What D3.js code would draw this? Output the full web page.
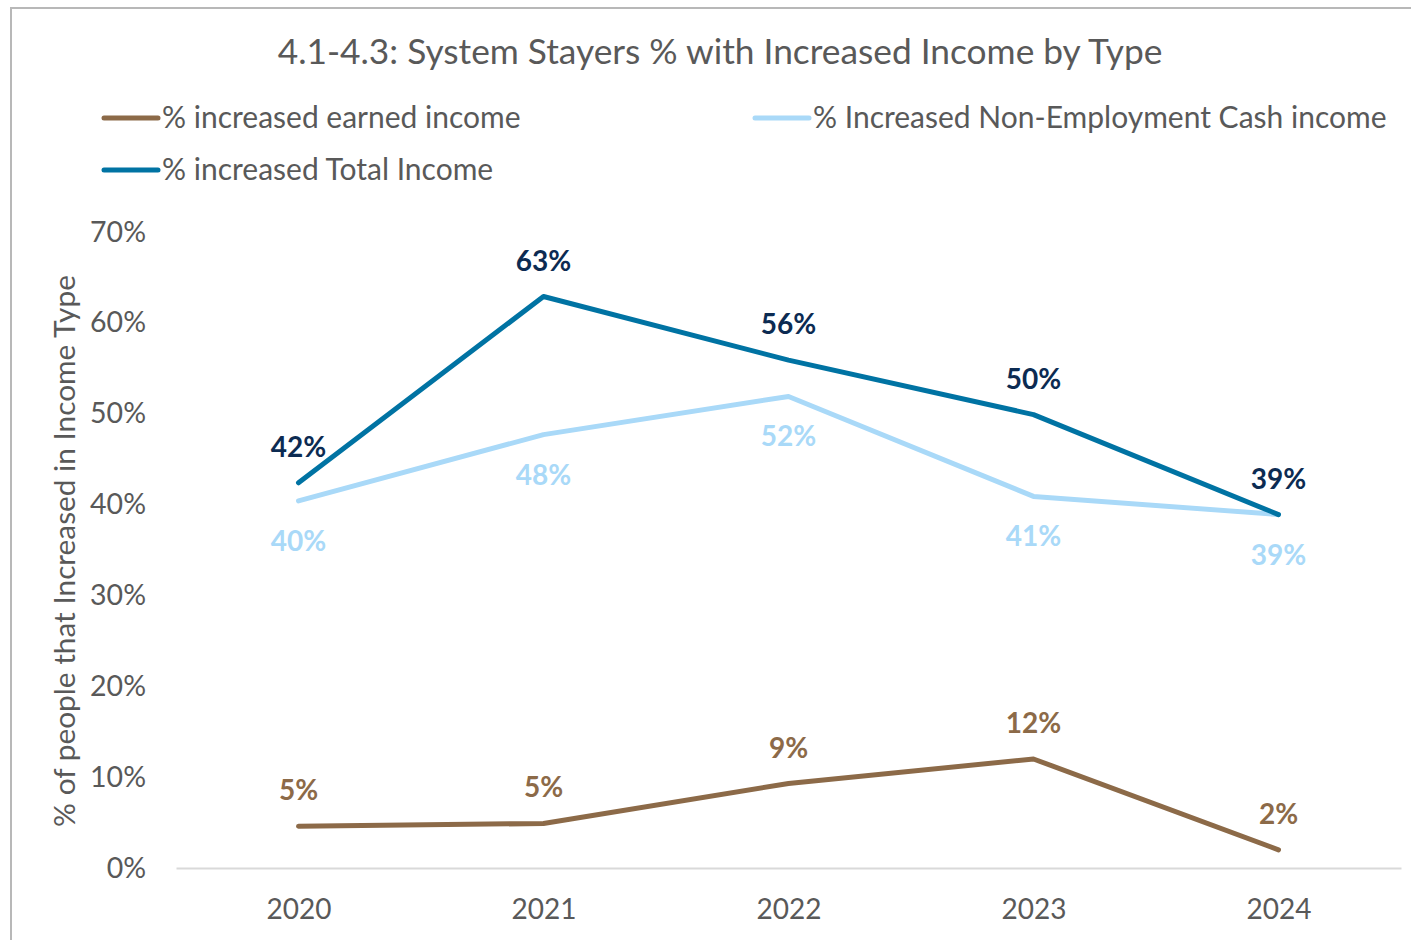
<!DOCTYPE html>
<meta charset="utf-8">
<style>
body { margin: 0; background: #fff; }
.plot_style text { fill: #595959; font-family: Lato, 'Open Sans', sans-serif; }
</style>
<body>
<div id="chart"></div>
<script src="https://d3js.org/d3.v7.min.js"></script>
<script>

// data
var years = ["2020", "2021", "2022", "2023", "2024"];
var earned = [4.6, 4.9, 9.3, 12.0, 2.0];
var nonEmployment = [40.4, 47.7, 51.9, 40.9, 38.9];
var total = [42.4, 62.9, 55.9, 49.9, 38.9];
var yTicks = [0, 10, 20, 30, 40, 50, 60, 70];

var W = 1411, H = 940;
var margin = {top: 232, right: 10, bottom: 72, left: 176},
    width = W - margin.left - margin.right,
    height = H - margin.top - margin.bottom;

var svg = d3.select("#chart").append("svg")
    .attr("width", W)
    .attr("height", H);

// chart border
svg.append("rect")
    .attr("x", 11).attr("y", 8)
    .attr("width", W + 20).attr("height", H + 20)
    .style("fill", "none")
    .style("stroke", "#b8b8b8")
    .style("stroke-width", 2);

var g = svg.append("g")
    .attr("class", "plot_style")
    .attr("transform", "translate(" + margin.left + "," + margin.top + ")");

var x = d3.scalePoint().domain(years).range([0, 1225]).padding(0.5);
var y = d3.scaleLinear().domain([0, 70]).range([height, 0]);

// x axis
var xAxis = g.append("g")
    .attr("transform", "translate(0," + height + ")")
    .call(d3.axisBottom(x).tickSize(0).tickPadding(36));
xAxis.select(".domain").style("stroke", "#d9d9d9").style("stroke-width", 2);
xAxis.selectAll("text").style("font-size", "28px").attr("dy", "0.55em");

// y axis
var yAxis = g.append("g")
    .call(d3.axisLeft(y).tickValues(yTicks).tickSize(0).tickPadding(30)
        .tickFormat(function(d) { return d + "%"; }));
yAxis.select(".domain").remove();
yAxis.selectAll("text").style("font-size", "28.5px");

// y label
g.append("text")
    .attr("transform", "rotate(-90)")
    .attr("x", -(551 - margin.top))
    .attr("y", -101)
    .style("text-anchor", "middle")
    .style("font-size", "29.8px")
    .text("% of people that Increased in Income Type");

// title
svg.append("text")
    .attr("class", "plot_style")
    .attr("x", 720)
    .attr("y", 64)
    .attr("text-anchor", "middle")
    .style("font-family", "Lato, sans-serif")
    .style("font-size", "35.3px")
    .style("fill", "#595959")
    .text("4.1-4.3: System Stayers % with Increased Income by Type");

var series = [
    {name: "% increased earned income", values: earned, color: "#8c6a48", label: "#8c6a48", pos: "above", lx: 104, ly: 118},
    {name: "% Increased Non-Employment Cash income", values: nonEmployment, color: "#a9d9f8", label: "#a9d9f8", pos: "below", lx: 755, ly: 118},
    {name: "% increased Total Income", values: total, color: "#0073a3", label: "#0c2b52", pos: "above", lx: 104, ly: 170}
];

var line = d3.line()
    .x(function(d, i) { return x(years[i]); })
    .y(function(d) { return y(d); });

series.forEach(function(s) {
    g.append("path")
        .datum(s.values)
        .attr("d", line)
        .style("fill", "none")
        .style("stroke", s.color)
        .style("stroke-width", 5)
        .style("stroke-linecap", "round")
        .style("stroke-linejoin", "round");
});

// data labels drawn after lines
series.forEach(function(s) {
    g.selectAll(null)
        .data(s.values)
        .enter().append("text")
        .attr("x", function(d, i) { return x(years[i]); })
        .attr("y", function(d) { return s.pos == "above" ? y(d) - 26 : y(d) + 50; })
        .attr("text-anchor", "middle")
        .style("font-family", "Lato, sans-serif")
        .style("font-weight", "bold")
        .style("font-size", "28px")
        .style("fill", s.label)
        .text(function(d) { return Math.round(d) + "%"; });

    // legend
    svg.append("line")
        .attr("x1", s.lx).attr("x2", s.lx + 54)
        .attr("y1", s.ly).attr("y2", s.ly)
        .style("stroke", s.color)
        .style("stroke-width", 5)
        .style("stroke-linecap", "round");

    svg.append("text")
        .attr("x", s.lx + 58)
        .attr("y", s.ly + 10)
        .style("font-family", "Lato, sans-serif")
        .style("font-size", "30px")
        .style("fill", "#595959")
        .text(s.name);
});

</script>
</body>
